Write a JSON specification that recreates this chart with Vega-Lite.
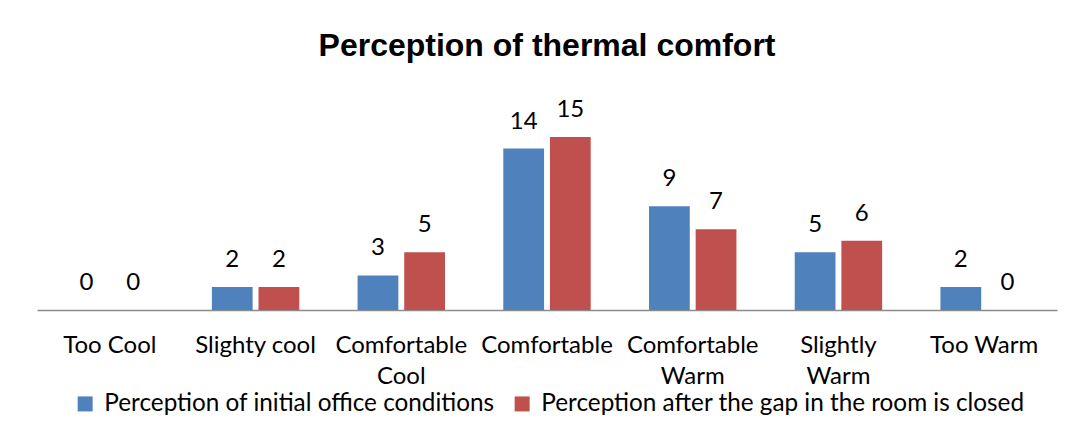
{
  "$schema": "https://vega.github.io/schema/vega-lite/v6.json",
  "autosize": "none",
  "width": 1020,
  "height": 184.5,
  "padding": {"left": 37, "top": 125.5, "right": 18, "bottom": 127},
  "background": "white",
  "title": {
    "text": "Perception of thermal comfort",
    "font": "Liberation Sans",
    "fontSize": 32,
    "fontWeight": "bold",
    "color": "#000000",
    "anchor": "middle",
    "offset": 35
  },
  "data": {
    "values": [
      {"category": "Too Cool", "series": "Perception of initial office conditions", "value": 0},
      {"category": "Too Cool", "series": "Perception after the gap in the room is closed", "value": 0},
      {"category": "Slighty cool", "series": "Perception of initial office conditions", "value": 2},
      {"category": "Slighty cool", "series": "Perception after the gap in the room is closed", "value": 2},
      {"category": "Comfortable Cool", "series": "Perception of initial office conditions", "value": 3},
      {"category": "Comfortable Cool", "series": "Perception after the gap in the room is closed", "value": 5},
      {"category": "Comfortable", "series": "Perception of initial office conditions", "value": 14},
      {"category": "Comfortable", "series": "Perception after the gap in the room is closed", "value": 15},
      {"category": "Comfortable Warm", "series": "Perception of initial office conditions", "value": 9},
      {"category": "Comfortable Warm", "series": "Perception after the gap in the room is closed", "value": 7},
      {"category": "Slightly Warm", "series": "Perception of initial office conditions", "value": 5},
      {"category": "Slightly Warm", "series": "Perception after the gap in the room is closed", "value": 6},
      {"category": "Too Warm", "series": "Perception of initial office conditions", "value": 2},
      {"category": "Too Warm", "series": "Perception after the gap in the room is closed", "value": 0}
    ]
  },
  "encoding": {
    "x": {
      "field": "category",
      "type": "nominal",
      "sort": ["Too Cool", "Slighty cool", "Comfortable Cool", "Comfortable", "Comfortable Warm", "Slightly Warm", "Too Warm"],
      "scale": {"paddingInner": 0.4, "paddingOuter": 0.2},
      "axis": {
        "title": null,
        "labelAngle": 0,
        "ticks": false,
        "domainColor": "#8c8c8c",
        "domainWidth": 1.5,
        "labelFont": "Lato",
        "labelFontSize": 24,
        "labelColor": "#000000",
        "labelPadding": 35,
        "labelLineHeight": 31,
        "labelBaseline": "middle",
        "labelExpr": "(datum.value == 'Comfortable Cool' || datum.value == 'Comfortable Warm' || datum.value == 'Slightly Warm') ? split(datum.value, ' ') : datum.value"
      }
    },
    "xOffset": {
      "field": "series",
      "type": "nominal",
      "sort": ["Perception of initial office conditions", "Perception after the gap in the room is closed"],
      "scale": {"paddingInner": 0.126}
    },
    "y": {
      "field": "value",
      "type": "quantitative",
      "scale": {"domain": [0, 16]},
      "axis": null
    }
  },
  "layer": [
    {
      "mark": {"type": "bar"},
      "encoding": {
        "color": {
          "field": "series",
          "type": "nominal",
          "sort": ["Perception of initial office conditions", "Perception after the gap in the room is closed"],
          "scale": {"range": ["#4F81BD", "#C0504D"]},
          "legend": {
            "title": null,
            "orient": "none",
            "direction": "horizontal",
            "legendX": 36,
            "legendY": 266,
            "padding": 0,
            "symbolType": "square",
            "symbolSize": 225,
            "symbolStrokeWidth": 0,
            "labelFont": "Lato",
            "labelFontSize": 24.3,
            "labelColor": "#000000",
            "labelOffset": 7,
            "columnPadding": 15,
            "labelLimit": 700
          }
        }
      }
    },
    {
      "mark": {"type": "text", "baseline": "middle", "dy": -27, "font": "Lato", "fontSize": 24, "color": "#000000"},
      "encoding": {
        "text": {"field": "value", "type": "quantitative"}
      }
    }
  ],
  "config": {
    "view": {"stroke": null},
    "axis": {"grid": false}
  }
}
